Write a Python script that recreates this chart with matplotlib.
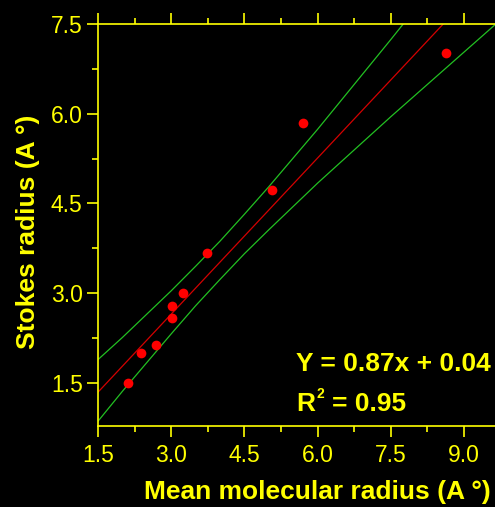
import matplotlib
matplotlib.use("Agg")
import matplotlib.pyplot as plt
from matplotlib.ticker import MultipleLocator

plt.rcParams['font.family'] = ['Liberation Sans', 'DejaVu Sans']

# measured radii (A)
mean_radius = [2.11, 2.38, 2.69, 3.01, 3.02, 3.25, 3.73, 5.06, 5.71, 8.64]
stokes_radius = [1.50, 2.00, 2.13, 2.59, 2.79, 3.01, 3.67, 4.73, 5.84, 7.02]

# linear fit
slope = 0.87
intercept = 0.04
r_squared = 0.95
fit_x = [1.5, 10.5]

# confidence band around the fit
upper_x = [1.5, 2.0, 2.5, 3.0, 3.5, 4.0, 4.5, 5.0, 5.5, 6.0, 6.5, 7.0, 7.5, 8.0]
upper_y = [1.89, 2.26, 2.65, 3.04, 3.45, 3.87, 4.32, 4.78, 5.26, 5.74, 6.24, 6.74, 7.24, 7.75]
lower_x = [1.5, 2.0, 2.5, 3.0, 3.5, 4.0, 4.5, 5.0, 5.5, 6.0, 6.5, 7.0, 7.5, 8.0, 8.5, 9.0, 9.5, 10.0]
lower_y = [0.86, 1.36, 1.84, 2.32, 2.79, 3.23, 3.66, 4.06, 4.45, 4.84, 5.21, 5.58, 5.95, 6.31,
           6.67, 7.03, 7.39, 7.75]

xticks = [1.5, 3.0, 4.5, 6.0, 7.5, 9.0]
yticks = [1.5, 3.0, 4.5, 6.0, 7.5]

fg = '#FFFF00'
W, H = 495, 507

fig = plt.figure(figsize=(W / 100, H / 100), dpi=100, facecolor='black')
ax = fig.add_axes([98 / W, 81 / H, 439.2 / W, 402 / H], facecolor='black')

ax.plot(upper_x, upper_y, color='#22C022', lw=0.9)
ax.plot(lower_x, lower_y, color='#22C022', lw=0.9)
fit_y = [slope * x + intercept for x in fit_x]
ax.plot(fit_x, fit_y, color='#D40000', lw=0.9)
ax.plot(mean_radius, stokes_radius, 'o', color='#FF0000', ms=7, mec='none', zorder=5)

ax.set_xlim(1.5, 10.5)
ax.set_ylim(0.78, 7.5)
ax.set_xticks(xticks)
ax.set_yticks(yticks)
ax.set_xticklabels(['%.1f' % t for t in xticks])
ax.set_yticklabels(['%.1f' % t for t in yticks])
ax.xaxis.set_minor_locator(MultipleLocator(0.75))
ax.yaxis.set_minor_locator(MultipleLocator(0.75))

for side in ['left', 'bottom', 'top']:
    ax.spines[side].set_color(fg)
    ax.spines[side].set_linewidth(1.2)
ax.spines['right'].set_visible(False)

ax.tick_params(which='both', direction='out', colors=fg, width=1.2,
               top=True, labeltop=False, right=False)
ax.tick_params(which='major', length=8, labelsize=16.5)
ax.tick_params(which='minor', length=4)
ax.tick_params(axis='x', which='major', pad=5)
ax.tick_params(axis='y', which='major', pad=3)

fig.text(317.5 / W, 1 - 492 / H, 'Mean molecular radius (A °)', color=fg,
         fontsize=19, fontweight='bold', ha='center', va='center')
fig.text(28 / W, 1 - 231.5 / H, 'Stokes radius (A °)', color=fg,
         fontsize=19, fontweight='bold', ha='center', va='center', rotation=90)

# fit equation and R^2 (superscript drawn as its own small text)
fig.text(296 / W, 1 - 371 / H, 'Y = %.2fx + %.2f' % (slope, intercept), color=fg,
         fontsize=19, fontweight='bold', ha='left', va='baseline')
fig.text(296 / W, 1 - 411 / H, 'R', color=fg,
         fontsize=19, fontweight='bold', ha='left', va='baseline')
fig.text(316.5 / W, 1 - 398 / H, '2', color=fg,
         fontsize=10, fontweight='bold', ha='left', va='baseline')
fig.text(332 / W, 1 - 411 / H, '= %.2f' % r_squared, color=fg,
         fontsize=19, fontweight='bold', ha='left', va='baseline')

fig.savefig('out.png', dpi=100, facecolor='black')
